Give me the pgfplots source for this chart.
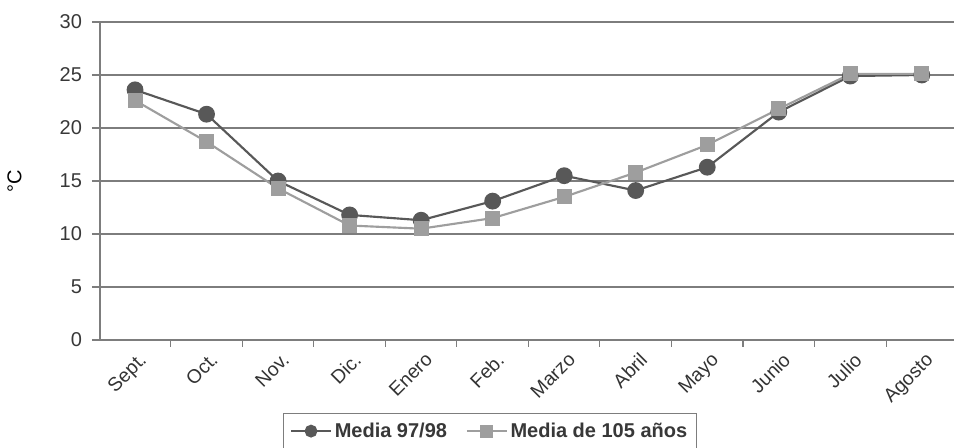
\documentclass[border=0pt]{standalone}
\usepackage{pgfplots}
\pgfplotsset{compat=1.18}
\usepackage{fontspec}
\setmainfont{Liberation Sans}
\definecolor{cdark}{RGB}{88,88,88}
\definecolor{clight}{RGB}{158,158,158}
\definecolor{cgrid}{RGB}{125,125,125}
\begin{document}
\begin{tikzpicture}
\useasboundingbox (-75pt,-81pt) rectangle (640.5pt,255pt);
\begin{axis}[
  at={(0,0)}, anchor=south west, scale only axis,
  width=640.5pt, height=238.5pt,
  xmin=-0.49, xmax=11.45, ymin=0, ymax=30,
  axis x line=bottom, axis y line=left,
  axis line style={cgrid, line width=0.8pt, -},
  ytick={0,5,...,30},
  ymajorgrids, grid style={cgrid, line width=0.8pt},
  xtick={0,...,11},
  xticklabels={Sept.,Oct.,Nov.,Dic.,Enero,Feb.,Marzo,Abril,Mayo,Junio,Julio,Agosto},
  minor xtick={-0.5,0.5,...,11.5},
  tick align=outside,
  major x tick style={draw=none},
  minor tick length=5pt, major tick length=6pt,
  every tick/.style={cgrid, line width=0.8pt},
  /pgf/number format/assume math mode=true,
  x tick label style={rotate=45, anchor=north east, font=\fontsize{14.5}{16}\selectfont, color=black!80, xshift=3pt},
  y tick label style={font=\fontsize{15}{18}\selectfont, color=black!78},
  yticklabel style={xshift=-4pt},
  ylabel={°C},
  ylabel style={at={(axis description cs:-0.1,0.5)}, anchor=center, font=\fontsize{15}{18}\selectfont},
  clip=false,
  legend style={at={(0.214,-0.2296)}, anchor=north west, draw=cgrid, line width=0.8pt,
    legend columns=2, font=\bfseries\fontsize{15}{18}\selectfont, text=black!78,
    inner xsep=5pt, inner ysep=5pt,
    /tikz/every even column/.append style={column sep=12pt}},
  legend image code/.code={
    \draw[mark repeat=2,mark phase=2,#1, mark size=4pt] plot coordinates {(0pt,0pt) (15pt,0pt) (30pt,0pt)};
  },
]
\addplot[cdark, line width=1.6pt, mark=*, mark size=5.5pt, mark options={fill=cdark, draw=cdark}]
  coordinates {(0,23.6) (1,21.3) (2,15.0) (3,11.8) (4,11.3) (5,13.1) (6,15.5) (7,14.1) (8,16.3) (9,21.5) (10,24.9) (11,25.0)};
\addlegendentry{Media 97/98}
\addplot[clight, line width=1.6pt, mark=square*, mark size=4.8pt, mark options={fill=clight, draw=clight}]
  coordinates {(0,22.6) (1,18.7) (2,14.3) (3,10.8) (4,10.5) (5,11.5) (6,13.5) (7,15.8) (8,18.4) (9,21.8) (10,25.1) (11,25.1)};
\addlegendentry{Media de 105 años}
\end{axis}
\end{tikzpicture}
\end{document}
